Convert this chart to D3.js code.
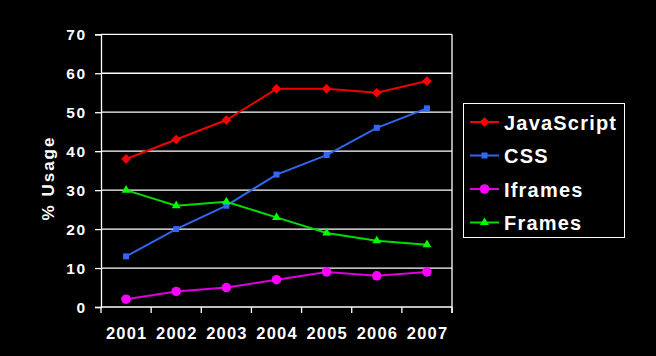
<!DOCTYPE html>
<html><head><meta charset="utf-8">
<script src="https://cdn.jsdelivr.net/npm/d3@7"></script>
<style>body{margin:0;background:#000}svg{display:block}</style>
</head><body>
<svg id="c" width="656" height="356"></svg>
<script>
const years = ["2001","2002","2003","2004","2005","2006","2007"];
const javascript = [38,43,48,56,56,55,58];
const css = [13,20,26,34,39,46,51];
const iframes = [2,4,5,7,9,8,9];
const frames = [30,26,27,23,19,17,16];
const yTicks = [0,10,20,30,40,50,60,70];
const seriesNames = ["JavaScript","CSS","Iframes","Frames"];

const series = [
  {name:seriesNames[0], values:javascript, color:"#ff0000", line:"#ee0000", sym:d3.symbolDiamond2, size:60},
  {name:seriesNames[1], values:css, color:"#3366ff", line:"#3366ee", sym:d3.symbolSquare, size:36},
  {name:seriesNames[2], values:iframes, color:"#ff00ff", line:"#dd00dd", sym:d3.symbolCircle, size:72},
  {name:seriesNames[3], values:frames, color:"#00ff00", line:"#00dd00", sym:d3.symbolTriangle, size:34}
];

const FONT = "Liberation Sans, Arial, sans-serif";
const svg = d3.select("#c");
svg.append("rect").attr("width",656).attr("height",356).attr("fill","#000");
const L=101, R=452, T=34.3, B=307;
const x = d3.scaleBand().domain(years).range([L,R]);
const y = d3.scaleLinear().domain([0,70]).range([B,T]);

// gridlines
svg.append("g").selectAll("line").data(yTicks.filter(d=>d>0)).join("line")
  .attr("x1",L).attr("x2",R).attr("y1",d=>y(d)).attr("y2",d=>y(d))
  .attr("stroke","#fff").attr("stroke-width",1.3);
// right border
svg.append("line").attr("x1",R).attr("x2",R).attr("y1",T).attr("y2",B+6)
  .attr("stroke","#fff").attr("stroke-width",1.3);

// y axis
const ya = svg.append("g").attr("transform",`translate(${L},0)`)
  .call(d3.axisLeft(y).tickValues(yTicks).tickSize(6).tickPadding(8).tickFormat(d3.format("d")));
ya.select(".domain").attr("stroke","#fff").attr("stroke-width",1.3);
ya.selectAll(".tick line").attr("stroke","#fff").attr("stroke-width",1.3);
ya.selectAll("text").attr("fill","#fff").attr("font-family",FONT)
  .attr("font-weight","bold").attr("font-size","15.5px").attr("letter-spacing","1.8px")
  .attr("dy","0.36em");

// x axis: ticks at category boundaries
const xa = svg.append("g").attr("transform",`translate(0,${B})`);
xa.append("line").attr("x1",L).attr("x2",R).attr("y1",0).attr("y2",0).attr("stroke","#fff").attr("stroke-width",1.3);
const bounds = years.map(d=>x(d)).concat([R]);
xa.selectAll("line.tk").data(bounds).join("line").attr("class","tk")
  .attr("x1",d=>d).attr("x2",d=>d).attr("y1",0).attr("y2",6).attr("stroke","#fff").attr("stroke-width",1.3);
xa.selectAll("text").data(years).join("text")
  .attr("x",d=>x(d)+x.bandwidth()/2+0.6).attr("y",32).attr("text-anchor","middle")
  .attr("fill","#fff").attr("font-family",FONT).attr("letter-spacing","1.2px")
  .attr("font-weight","bold").attr("font-size","16.5px").text(d=>d);

// y title
svg.append("text").attr("transform","translate(54,178) rotate(-90)")
  .attr("text-anchor","middle").attr("fill","#fff").attr("letter-spacing","2px")
  .attr("font-family",FONT).attr("font-weight","bold")
  .attr("font-size","17px").text("% Usage");

// lines and markers
const cx = i => x(years[i]) + x.bandwidth()/2;
const line = d3.line().x((d,i)=>cx(i)).y(d=>y(d));
series.forEach(s=>{
  svg.append("path").attr("d",line(s.values)).attr("fill","none")
    .attr("stroke",s.line).attr("stroke-width",2);
  svg.append("g").selectAll("path").data(s.values).join("path")
    .attr("transform",(d,i)=>`translate(${cx(i)},${y(d)})`)
    .attr("d",d3.symbol().type(s.sym).size(s.size)).attr("fill",s.color);
});

// legend
const lg = svg.append("g");
lg.append("rect").attr("x",463.5).attr("y",103.5).attr("width",161).attr("height",134)
  .attr("fill","#000").attr("stroke","#fff").attr("stroke-width",1);
series.forEach((s,i)=>{
  const yy = 122 + i*33.5;
  lg.append("line").attr("x1",470).attr("x2",499).attr("y1",yy).attr("y2",yy)
    .attr("stroke",s.line).attr("stroke-width",2);
  lg.append("path").attr("transform",`translate(484.5,${yy})`)
    .attr("d",d3.symbol().type(s.sym).size(s.size)).attr("fill",s.color);
  lg.append("text").attr("x",504).attr("y",yy+7.5).attr("fill","#fff").attr("letter-spacing","1.2px")
    .attr("font-family",FONT).attr("font-weight","bold")
    .attr("font-size","20px").text(s.name);
});
</script>
</body></html>
